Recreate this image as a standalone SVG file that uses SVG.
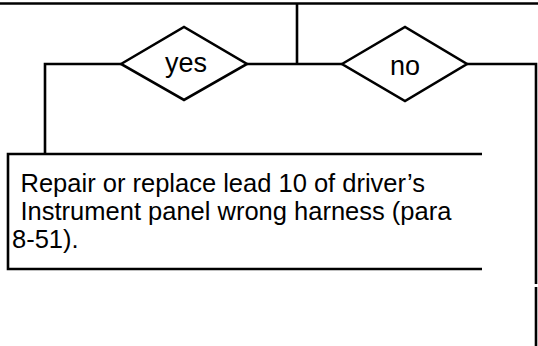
<svg xmlns="http://www.w3.org/2000/svg" width="538" height="346" viewBox="0 0 538 346">
<style>
.ln{fill:none;stroke:#000;stroke-width:2.6;stroke-linecap:butt;stroke-linejoin:miter}
.dia{fill:#fff;stroke:#000;stroke-width:2.6;stroke-linejoin:miter}
.t{font-family:"Liberation Sans",Arial,sans-serif;fill:#000}
</style>
<rect width="538" height="346" fill="#fff"/>
<g id="connectors">
<line class="ln" x1="0" y1="3.5" x2="538" y2="3.5"/>
<line class="ln" x1="297" y1="3.5" x2="297" y2="64"/>
<line class="ln" x1="247" y1="64" x2="342" y2="64"/>
<polyline class="ln" points="121,64 45,64 45,154"/>
<polyline class="ln" points="467,64 536,64 536,284"/>
<line class="ln" x1="536" y1="287" x2="536" y2="346"/>
</g>
<g id="node-yes">
<polygon class="dia" points="121,64 184,27 247,64 184,100"/>
<text class="t" x="186" y="72" font-size="27" text-anchor="middle">yes</text>
</g>
<g id="node-no">
<polygon class="dia" points="342,64 405,27 467,64 405,101"/>
<text class="t" x="405" y="75" font-size="27" text-anchor="middle">no</text>
</g>
<g id="node-action">
<polyline class="ln" points="482,154 8,154 8,269 482,269"/>
<text class="t" font-size="25.5"><tspan x="20.5" y="192">Repair or replace lead 10 of driver’s</tspan><tspan x="20.5" y="220">Instrument panel wrong harness (para</tspan><tspan x="12" y="248">8-51).</tspan></text>
</g>
</svg>
